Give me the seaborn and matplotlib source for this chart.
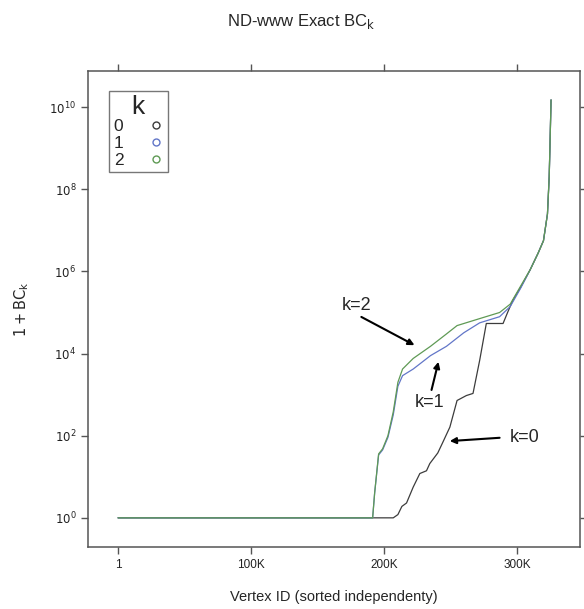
import matplotlib
matplotlib.use("Agg")
import matplotlib.pyplot as plt
from matplotlib.lines import Line2D
import seaborn as sns
import pandas as pd

# sorted 1 + BC_k values (vertex id, value)
k0_ids = [1, 207000, 210500, 213500, 217000, 222000, 227000, 232000, 234500,
          240500, 244000, 249600, 255000, 262000, 267000, 272000, 277000,
          289600, 293000, 297000, 303000, 310000, 316000, 320000, 323000,
          324300, 325000, 325700]
k0_vals = [1, 1, 1.2, 1.9, 2.3, 5.6, 12, 14, 21, 38, 66, 162, 720, 950, 1070,
           6800, 5.4e4, 5.4e4, 1.0e5, 2.0e5, 4.2e5, 1.1e6, 2.8e6, 5.6e6,
           2.5e7, 2.0e8, 1.6e9, 1.5e10]

k1_ids = [1, 191500, 193000, 196000, 199000, 203000, 207000, 210500, 214000,
          222000, 235000, 247000, 260000, 272000, 287000, 295000, 303000,
          310000, 316000, 320000, 323000, 324300, 325000, 325700]
k1_vals = [1, 1, 4, 34, 45, 91, 320, 1600, 2900, 4.2e3, 8.9e3, 1.5e4, 3.2e4,
           5.6e4, 7.9e4, 1.4e5, 4.0e5, 1.1e6, 2.8e6, 5.6e6, 2.5e7, 2.0e8,
           1.6e9, 1.5e10]

k2_ids = [1, 191500, 193000, 196000, 199000, 203000, 207000, 210500, 214000,
          222000, 235000, 247000, 255000, 272000, 287000, 295000, 303000,
          310000, 316000, 320000, 323000, 324300, 325000, 325700]
k2_vals = [1, 1, 4, 36, 48, 100, 380, 2000, 4200, 7.6e3, 1.5e4, 3.0e4, 4.8e4,
           7.1e4, 1.0e5, 1.6e5, 4.5e5, 1.1e6, 2.8e6, 5.6e6, 2.5e7, 2.0e8,
           1.6e9, 1.5e10]

k_labels = ["0", "1", "2"]
colors = ["#3c3c3c", "#6276c8", "#5f9a55"]
x_ticks = [1, 100000, 200000, 300000]
x_tick_labels = ["1", "100K", "200K", "300K"]
y_ticks = [1, 1e2, 1e4, 1e6, 1e8, 1e10]
y_tick_labels = ["$10^{0}$", "$10^{2}$", "$10^{4}$", "$10^{6}$", "$10^{8}$", "$10^{10}$"]

frames = []
for lab, ids, vals in zip(k_labels, [k0_ids, k1_ids, k2_ids], [k0_vals, k1_vals, k2_vals]):
    frames.append(pd.DataFrame({"vertex": ids, "bc": vals, "k": lab}))
df = pd.concat(frames, ignore_index=True)

sns.set_style("white")
plt.rcParams["font.family"] = ["Liberation Sans", "DejaVu Sans"]

fig = plt.figure(figsize=(5.84, 6.09), dpi=100)
ax = fig.add_axes([0.1507, 0.1018, 0.8425, 0.7816])

sns.lineplot(data=df, x="vertex", y="bc", hue="k", palette=colors,
             hue_order=k_labels, estimator=None, sort=False, linewidth=0.9,
             legend=False, ax=ax)

ax.set_yscale("log")
ax.set_xlim(-22600, 347500)
ax.set_ylim(10 ** -0.71, 10 ** 10.88)
ax.set_xticks(x_ticks)
ax.set_xticklabels(x_tick_labels)
ax.set_yticks(y_ticks)
ax.set_yticklabels(y_tick_labels)
ax.minorticks_off()
ax.tick_params(axis="both", which="major", direction="out", length=5, width=1,
               color="#555555", labelsize=8.5, labelcolor="#222222",
               top=True, right=True, labeltop=False, labelright=False,
               bottom=True, left=True)
for s in ax.spines.values():
    s.set_color("#555555")
    s.set_linewidth(1.1)

ax.set_xlabel("Vertex ID (sorted independenty)", fontsize=10.5, labelpad=14)
ax.set_ylabel("$1 + \\mathrm{BC_k}$", fontsize=10.5, labelpad=13)
fig.text(0.515, 0.965, "ND-www Exact BC$_\\mathrm{k}$", ha="center", va="center",
         fontsize=12)

# arrows pointing at each curve
arrow = dict(arrowstyle="-|>", color="black", lw=1.5, mutation_scale=9,
             shrinkA=0, shrinkB=0)
ax.annotate("", xy=(223000, 1.6e4), xytext=(183000, 7.8e4), arrowprops=arrow)
ax.text(179500, 1.5e5, "k=2", ha="center", va="center", fontsize=13)
ax.annotate("", xy=(241000, 6.3e3), xytext=(235800, 1.3e3), arrowprops=arrow)
ax.text(234300, 630, "k=1", ha="center", va="center", fontsize=13)
ax.annotate("", xy=(249500, 74), xytext=(287000, 89), arrowprops=arrow)
ax.text(306000, 89, "k=0", ha="center", va="center", fontsize=13)

handles = [Line2D([], [], marker="o", linestyle="", markersize=5,
                  markerfacecolor="none", markeredgecolor=c, markeredgewidth=1)
           for c in colors]
leg = ax.legend(handles, k_labels, title="k", loc="upper left",
                bbox_to_anchor=(0.043, 0.958), borderaxespad=0, markerfirst=False,
                fontsize=12.5, title_fontsize=19, fancybox=False, frameon=True,
                handletextpad=1.5, handlelength=0.8, labelspacing=0.08,
                borderpad=0.25)
leg.get_frame().set_edgecolor("#555555")
leg.get_frame().set_linewidth(1.0)
leg._legend_box.sep = 0

fig.savefig("out.png", dpi=100)
